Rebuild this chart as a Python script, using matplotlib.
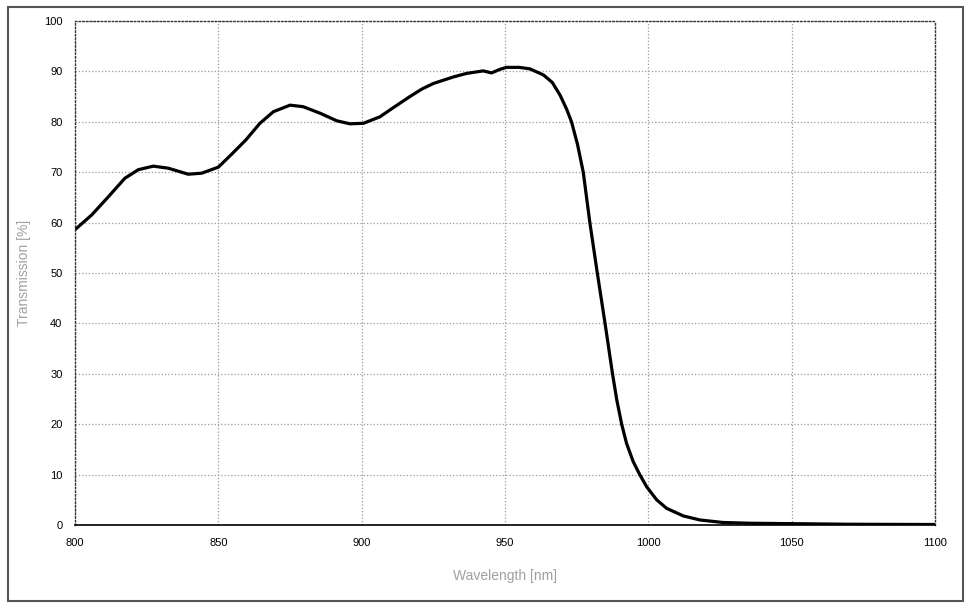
import matplotlib.pyplot as plt
from matplotlib.patches import Rectangle

plt.rcParams['font.family'] = ['Liberation Sans', 'DejaVu Sans']

# 透过率曲线数据
wavelength = [800, 805.8, 811.6, 817.4, 822.1, 827.3, 832.5, 839.5, 844.2, 850,
              854.7, 859.6, 864.5, 869.2, 875, 879.6, 885.5, 891.3, 895.9, 900.6,
              906.4, 910.5, 916.8, 921, 925, 932, 936.6, 942.4, 945.3, 948.2,
              950.5, 955, 958.7, 963.4, 966.5, 969.2, 971.5, 973.2, 975.3, 977.3,
              979.6, 982.2, 984.9, 987.5, 989, 990.7, 992.4, 994.7, 997, 999.4,
              1002.9, 1006.4, 1012.2, 1018, 1026, 1035.4, 1052.9, 1070, 1085, 1100]
transmission = [58.6, 61.5, 65.1, 68.8, 70.5, 71.2, 70.8, 69.6, 69.8, 71.0,
                73.6, 76.4, 79.7, 82.0, 83.3, 83.0, 81.7, 80.2, 79.6, 79.7,
                81.0, 82.6, 85.0, 86.5, 87.6, 88.9, 89.6, 90.1, 89.7, 90.4,
                90.8, 90.8, 90.5, 89.3, 87.8, 85.3, 82.5, 80.0, 75.5, 70.0,
                60.0, 50.0, 40.0, 30.0, 24.8, 20.0, 16.2, 12.6, 10.0, 7.6,
                5.0, 3.3, 1.8, 1.0, 0.5, 0.35, 0.25, 0.15, 0.12, 0.1]

x_ticks = [800, 850, 900, 950, 1000, 1050, 1100]
y_ticks = list(range(0, 101, 10))


def main():
    fig = plt.figure(figsize=(9.72, 6.08), dpi=100)
    ax = fig.add_axes([75 / 972, 83 / 608, 860 / 972, 504 / 608])

    ax.plot(wavelength, transmission, color='black', linewidth=2.3,
            solid_joinstyle='round', solid_capstyle='round')

    ax.set_xlim(800, 1100)
    ax.set_ylim(0, 100)
    ax.set_xticks(x_ticks)
    ax.set_yticks(y_ticks)
    ax.tick_params(length=0, labelsize=8, pad=9, colors='black')
    ax.grid(True, color='#999999', linestyle=':', linewidth=0.9)
    for side in ['left', 'top', 'right']:
        ax.spines[side].set_linestyle(':')
        ax.spines[side].set_color('#333333')
        ax.spines[side].set_linewidth(1.0)
    ax.spines['bottom'].set_color('black')
    ax.spines['bottom'].set_linewidth(1.2)

    ax.set_xlabel('Wavelength [nm]', color='#a0a0a0', fontsize=10)
    ax.set_ylabel('Transmission [%]', color='#a0a0a0', fontsize=10)
    ax.xaxis.set_label_coords(0.5, -0.101)
    ax.xaxis.label.set_va('center')
    ax.yaxis.set_label_coords(-0.059, 0.5)
    ax.yaxis.label.set_va('center')

    # 外框
    fig.patches.append(Rectangle((8 / 972, 7 / 608), 955 / 972, 594 / 608,
                                 transform=fig.transFigure, fill=False,
                                 edgecolor='#555555', linewidth=1.5))

    fig.savefig('out.png', dpi=100)


if __name__ == '__main__':
    main()
